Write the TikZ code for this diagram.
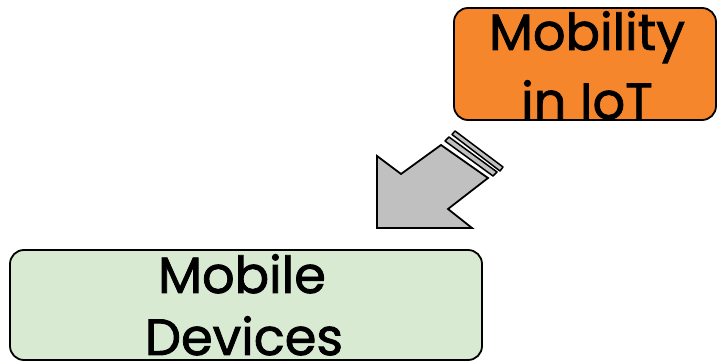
\documentclass[tikz,border=0pt]{standalone}
\usepackage{fontspec}
\setmainfont{Poppins}
\newfontfamily\labelfont{Poppins}[FakeBold=1.6]
\definecolor{boxorange}{RGB}{246,134,44}
\definecolor{boxgreen}{RGB}{217,234,211}
\definecolor{arrowgray}{RGB}{192,192,192}
\begin{document}
\begin{tikzpicture}[x=1pt,y=-1pt,
  box/.style={draw=black, line width=1.8pt, rounded corners=14pt, inner sep=0pt},
  lbl/.style={anchor=base, inner sep=0pt, font=\labelfont\fontsize{51}{70}\selectfont},
  blockarrow/.style={draw=black, line width=1.8pt, fill=arrowgray, line join=miter},
  stripe/.style={draw=black, line width=1.5pt, fill=arrowgray, line join=round}]
\useasboundingbox (0,0) rectangle (718,363);

% top box
\node[box, fill=boxorange, minimum width=262pt, minimum height=112pt] (iot) at (585,64) {};
\node[lbl] (iot1) at (587,50) {Mobility};
\node[lbl] (iot2) at (587,119) {in IoT};

% bottom box
\node[box, fill=boxgreen, minimum width=472pt, minimum height=110pt] (dev) at (246,305) {};
\node[lbl] (dev1) at (242,293) {Mobile};
\node[lbl] (dev2) at (244,355) {Devices};

% striped block arrow pointing from the top box down to the bottom box
\draw[blockarrow] (441,145) -- (401,174) -- (377,156) -- (377,228) -- (472,228)
  -- (448,209) -- (488,178) -- cycle;
\draw[stripe] (445,141) -- (449,137) -- (497,172) -- (493,176) -- cycle;
\draw[stripe] (452,134.5) -- (455,131) -- (503,167) -- (500,171) -- cycle;
\end{tikzpicture}
\end{document}
